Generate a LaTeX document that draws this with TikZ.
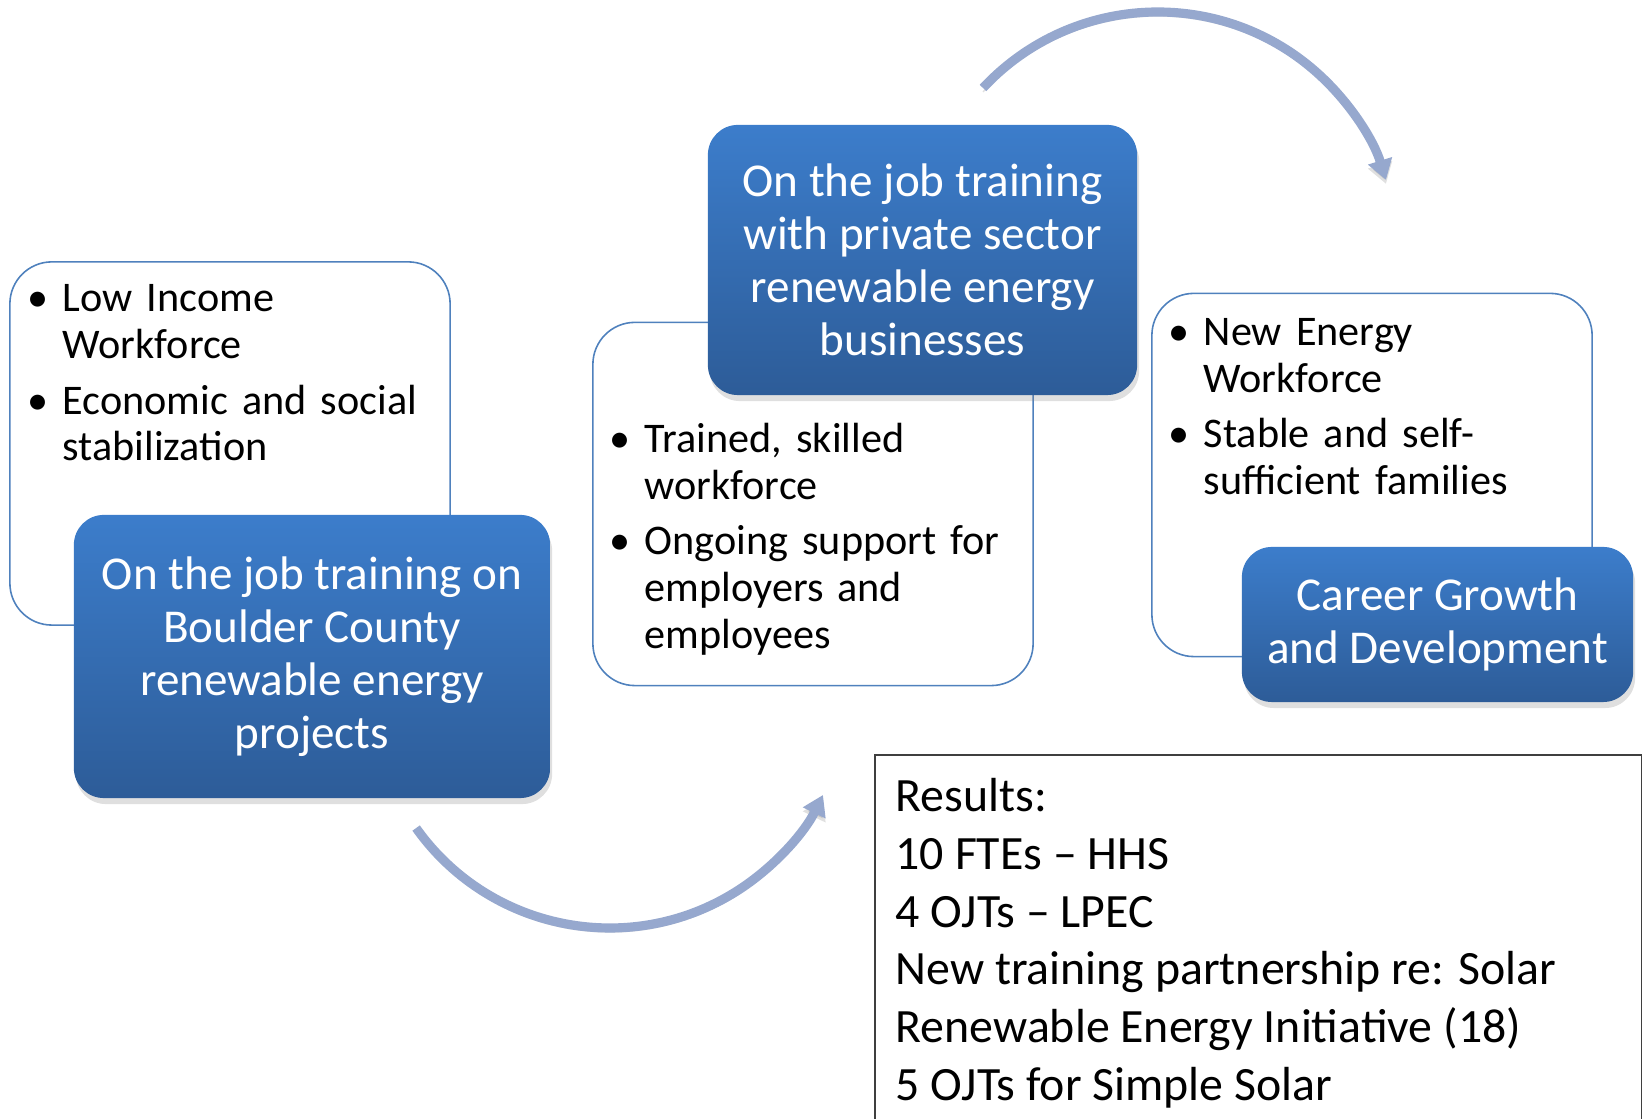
\documentclass[tikz,border=0pt]{standalone}
\usepackage{fontspec}
\setmainfont{Carlito}
\usetikzlibrary{positioning}
\usetikzlibrary{shadows}
\usetikzlibrary{arrows.meta}
\usetikzlibrary{calc}

\definecolor{boxtop}{HTML}{3C7DCB}
\definecolor{boxbottom}{HTML}{2D5C98}
\definecolor{boxline}{HTML}{4F81BD}
\definecolor{arrowblue}{HTML}{96A8CE}
\definecolor{frameline}{HTML}{3F3F3F}

\newcommand{\nl}{\break}
\newcommand{\bitem}[1]{\hangindent=0.35cm\hangafter=1\noindent\makebox[0.35cm][l]{\textbullet}#1\par}

\begin{document}
\begin{tikzpicture}[x=0.01cm, y=0.01cm,
                bluebox/.style={rectangle, rounded corners=0.3cm, top color=boxtop, bottom color=boxbottom, text=white, align=center, inner sep=0pt, font=\fontsize{13.4}{15.1}\selectfont, drop shadow={shadow xshift=0.02cm, shadow yshift=-0.06cm, opacity=0.25}},
                whitebox/.style={rectangle, rounded corners=0.42cm, draw=boxline, line width=0.45pt, fill=white, minimum width=4.4cm, minimum height=3.63cm},
                bullettext/.style={anchor=north west, inner sep=0pt, text width=4.2cm, font=\fontsize{12}{13.3}\selectfont, execute at begin node={\setlength{\parskip}{2.5pt}\raggedright}},
                resultsframe/.style={rectangle, draw=frameline, line width=0.55pt, fill=white, anchor=north west},
                resultstext/.style={anchor=north west, inner sep=0pt, align=left, font=\fontsize{13.6}{16.4}\selectfont},
                cyclearrow/.style={draw=arrowblue, line width=2.6pt, -{Triangle[width=0.24cm, length=0.2cm]},
                    preaction={draw=black, opacity=0.12, transform canvas={yshift=-0.04cm}}},
            ]
            \useasboundingbox (0,0) rectangle (1642,1119);

            % White boxes
            \node[whitebox]         (lowbox)        at (230,675.5)      {};
            \node[whitebox]         (skillbox)      at (813,615)        {};
            \node[whitebox]         (familybox)     at (1372,644)       {};

            \node[bullettext]       (lowtext)       at ([shift={(18,-23)}]lowbox.north west)
                {\bitem{Low Income\nl Workforce}\bitem{Economic and social\nl stabilization}};
            \node[bullettext]       (skilltext)     at ([shift={(17,-101)}]skillbox.north west)
                {\bitem{Trained, skilled\nl workforce}\bitem{Ongoing support for\nl employers and\nl employees}};
            \node[bullettext]       (familytext)    at ([shift={(17,-25)}]familybox.north west)
                {\bitem{New Energy\nl Workforce}\bitem{Stable and self-\nl sufficient families}};

            % Blue boxes
            \node[bluebox, minimum width=4.76cm, minimum height=2.83cm]   (countyjob)   at (312,462.5)
                {On the job training on\\Boulder County\\renewable energy\\projects};
            \node[bluebox, minimum width=4.29cm, minimum height=2.70cm]   (privatejob)  at (922.5,859)
                {On the job training\\with private sector\\renewable energy\\businesses};
            \node[bluebox, minimum width=3.91cm, minimum height=1.55cm]   (career)      at (1437.5,494.5)
                {Career Growth\\and Development};

            % Results
            \node[resultsframe, minimum width=7.67cm, minimum height=4cm] (resultsbox) at (874,365) {};
            \node[resultstext]      (results)       at ([shift={(21,-24)}]resultsbox.north west)
                {Results:\\10 FTEs \textendash{} HHS\\4 OJTs \textendash{} LPEC\\New training partnership re: Solar\\Renewable Energy Initiative (18)\\5 OJTs for Simple Solar};

            %Arrows
            \coordinate (lowstart) at ($(609.7,428.5)+(215.4:237.5)$);
            \coordinate (topstart) at ($(1157.8,868)+(137:239)$);
            \draw[cyclearrow] (lowstart) arc[start angle=215.4, end angle=333.9, radius=237.5];
            \draw[cyclearrow] (topstart) arc[start angle=137, end angle=17.3, radius=239];
        \end{tikzpicture}
\end{document}
